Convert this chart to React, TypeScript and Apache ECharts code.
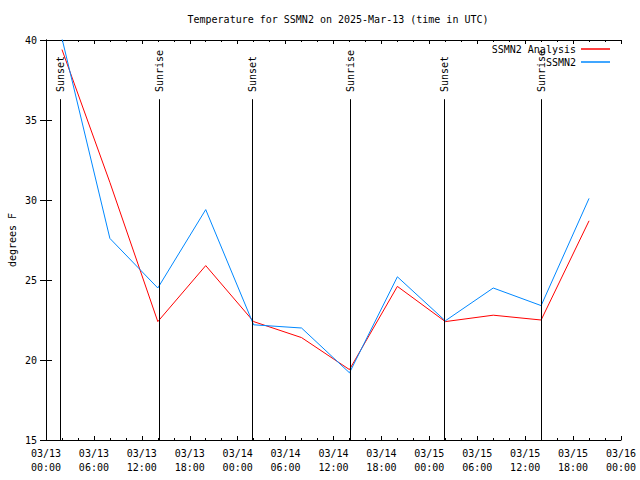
import React, { useEffect, useRef } from "react";
import * as echarts from "echarts";

// hours since 2025-03-13 00:00 UTC
const hours = [2, 8, 14, 20, 26, 32, 38, 44, 50, 56, 62, 68];
const analysis = [39.4, 31.1, 22.4, 25.9, 22.4, 21.4, 19.4, 24.6, 22.4, 22.8, 22.5, 28.7];
const observed = [40.1, 27.6, 24.5, 29.4, 22.2, 22.0, 19.2, 25.2, 22.45, 24.5, 23.4, 30.1];
const eventHours = [1.87, 14.18, 25.85, 38.15, 49.87, 62.1];
const eventLabels = ["Sunset", "Sunrise", "Sunset", "Sunrise", "Sunset", "Sunrise"];
const seriesNames = ["SSMN2 Analysis", "SSMN2"];
const titleText = "Temperature for SSMN2 on 2025-Mar-13 (time in UTC)";

const FONT = "DejaVu Sans Mono";

function fmtX(v: number): string {
  const day = 13 + Math.floor(v / 24);
  const hh = v % 24;
  return "03/" + String(day).padStart(2, "0") + "\n" + String(hh).padStart(2, "0") + ":00";
}

export default function App() {
  const ref = useRef<HTMLDivElement>(null);
  useEffect(() => {
    if (!ref.current) return;
    const chart = echarts.init(ref.current, undefined, { renderer: "svg" });
    const axisLine = { show: true, lineStyle: { color: "#000", width: 1 } };
    const xBase = {
      type: "value" as const,
      min: 0,
      max: 72,
      interval: 6,
      splitLine: { show: false },
      axisLine,
      axisTick: { show: true, inside: true, length: 4, lineStyle: { color: "#000" } },
      minorTick: { show: true, splitNumber: 3, length: 2, lineStyle: { color: "#000" } },
    };
    const yBase = {
      type: "value" as const,
      min: 15,
      max: 40,
      interval: 5,
      splitLine: { show: false },
      axisLine,
      axisTick: { show: true, inside: true, length: 6, lineStyle: { color: "#000" } },
    };
    chart.setOption({
      animation: false,
      backgroundColor: "#fff",
      textStyle: { fontFamily: FONT },
      title: {
        text: titleText,
        left: 333,
        textAlign: "center",
        top: 9,
        textStyle: { fontFamily: FONT, fontSize: 10, fontWeight: "normal", color: "#000" },
      },
      legend: {
        data: seriesNames,
        orient: "vertical",
        right: 25,
        top: 39,
        align: "right",
        icon: "rect",
        itemWidth: 29,
        itemHeight: 1.5,
        itemGap: 3,
        textStyle: { fontFamily: FONT, fontSize: 10, color: "#000" },
      },
      grid: { left: 46, right: 19, top: 40, bottom: 40, containLabel: false, outerBoundsMode: "none" },
      xAxis: [
        {
          ...xBase,
          position: "bottom",
          axisLabel: {
            formatter: fmtX,
            fontFamily: FONT,
            fontSize: 10,
            color: "#000",
            lineHeight: 14,
            margin: 6,
            showMinLabel: true,
            showMaxLabel: true,
          },
        },
        { ...xBase, position: "top", axisLabel: { show: false } },
      ],
      yAxis: [
        {
          ...yBase,
          position: "left",
          name: "degrees F",
          nameLocation: "middle",
          nameRotate: 90,
          nameGap: 29,
          nameMoveOverlap: false,
          nameTextStyle: { fontFamily: FONT, fontSize: 10, color: "#000" },
          axisLabel: { fontFamily: FONT, fontSize: 10, color: "#000", margin: 9 },
        },
        { ...yBase, position: "right", axisLabel: { show: false } },
      ],
      series: [
        {
          name: seriesNames[0],
          type: "line",
          data: hours.map((h, i) => [h, analysis[i]]),
          showSymbol: false,
          symbol: "none",
          lineStyle: { color: "#ff0000", width: 1 },
          itemStyle: { color: "#ff0000" },
          z: 2,
        },
        {
          name: seriesNames[1],
          type: "line",
          data: hours.map((h, i) => [h, observed[i]]),
          showSymbol: false,
          symbol: "none",
          lineStyle: { color: "#0088ff", width: 1 },
          itemStyle: { color: "#0088ff" },
          z: 3,
        },
        {
          type: "custom",
          name: "events",
          z: 4,
          silent: true,
          data: eventHours.map((h, i) => [h, i]),
          renderItem: (params: any, api: any) => {
            const t = api.value(0);
            const idx = api.value(1);
            const bottom = api.coord([t, 15]);
            const top = api.coord([t, 36.3]);
            const lab = api.coord([t, 36.75]);
            const px = Math.floor(bottom[0]) + 0.5;
            return {
              type: "group",
              children: [
                {
                  type: "line",
                  shape: { x1: px, y1: bottom[1], x2: px, y2: top[1] },
                  style: { stroke: "#000", lineWidth: 1 },
                },
                {
                  type: "text",
                  x: lab[0],
                  y: lab[1],
                  rotation: Math.PI / 2,
                  style: {
                    text: eventLabels[idx],
                    fontFamily: FONT,
                    fontSize: 10,
                    fill: "#000",
                    align: "left",
                    verticalAlign: "middle",
                  },
                },
              ],
            };
          },
        },
      ],
    });
    return () => chart.dispose();
  }, []);
  return <div ref={ref} style={{ width: 640, height: 480, position: "absolute", left: 0, top: 0 }} />;
}
